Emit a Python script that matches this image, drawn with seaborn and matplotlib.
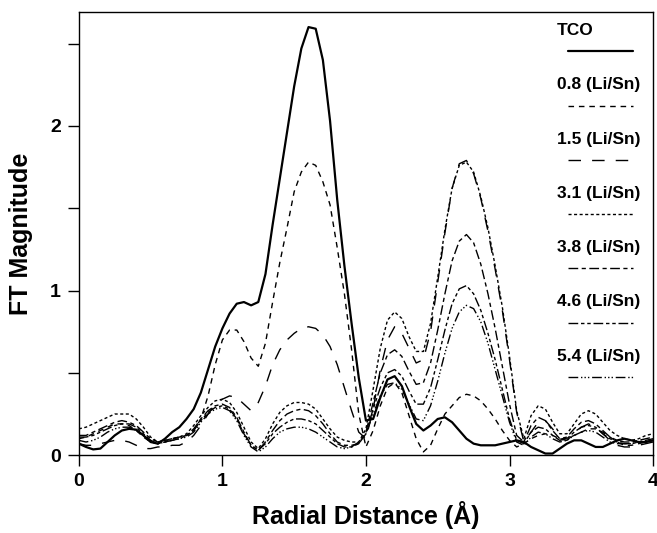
import matplotlib
matplotlib.use("Agg")
import matplotlib.pyplot as plt
import seaborn as sns
import pandas as pd

# ---------------- data ----------------
r = [0.00, 0.05, 0.10, 0.15, 0.20, 0.25, 0.30, 0.35, 0.40, 0.45,
     0.50, 0.55, 0.60, 0.65, 0.70, 0.75, 0.80, 0.85, 0.90, 0.95,
     1.00, 1.05, 1.10, 1.15, 1.20, 1.25, 1.30, 1.35, 1.40, 1.45,
     1.50, 1.55, 1.60, 1.65, 1.70, 1.75, 1.80, 1.85, 1.90, 1.95,
     2.00, 2.05, 2.10, 2.15, 2.20, 2.25, 2.30, 2.35, 2.40, 2.45,
     2.50, 2.55, 2.60, 2.65, 2.70, 2.75, 2.80, 2.85, 2.90, 2.95,
     3.00, 3.05, 3.10, 3.15, 3.20, 3.25, 3.30, 3.35, 3.40, 3.45,
     3.50, 3.55, 3.60, 3.65, 3.70, 3.75, 3.80, 3.85, 3.90, 3.95,
     4.00]

tco = [0.07, 0.05, 0.035, 0.04, 0.08, 0.12, 0.15, 0.16, 0.155, 0.12,
       0.08, 0.07, 0.10, 0.14, 0.17, 0.22, 0.28, 0.38, 0.52, 0.66,
       0.77, 0.86, 0.92, 0.93, 0.91, 0.93, 1.10, 1.40, 1.68, 1.96,
       2.24, 2.47, 2.60, 2.59, 2.40, 2.03, 1.55, 1.15, 0.80, 0.47,
       0.21, 0.22, 0.35, 0.46, 0.48, 0.42, 0.30, 0.19, 0.15, 0.18,
       0.22, 0.23, 0.20, 0.15, 0.10, 0.07, 0.06, 0.06, 0.06, 0.07,
       0.08, 0.09, 0.08, 0.05, 0.03, 0.01, 0.01, 0.04, 0.07, 0.09,
       0.09, 0.07, 0.05, 0.05, 0.07, 0.09, 0.10, 0.09, 0.08, 0.08,
       0.09]

li08 = [0.10, 0.11, 0.13, 0.15, 0.17, 0.19, 0.19, 0.18, 0.15, 0.11,
        0.08, 0.07, 0.08, 0.10, 0.11, 0.12, 0.15, 0.22, 0.36, 0.55,
        0.70, 0.76, 0.76, 0.69, 0.59, 0.54, 0.68, 0.93, 1.17, 1.38,
        1.60, 1.72, 1.78, 1.76, 1.66, 1.52, 1.26, 0.98, 0.64, 0.25,
        0.05, 0.15, 0.30, 0.41, 0.44, 0.38, 0.24, 0.10, 0.02, 0.06,
        0.16, 0.25, 0.30, 0.35, 0.37, 0.36, 0.33, 0.28, 0.22, 0.15,
        0.09, 0.05, 0.07, 0.10, 0.12, 0.13, 0.12, 0.10, 0.10, 0.12,
        0.14, 0.16, 0.16, 0.14, 0.11, 0.08, 0.06, 0.06, 0.07, 0.08,
        0.09]

li15 = [0.07, 0.06, 0.06, 0.07, 0.08, 0.09, 0.09, 0.08, 0.06, 0.04,
        0.04, 0.05, 0.05, 0.06, 0.06, 0.08, 0.12, 0.18, 0.25, 0.31,
        0.34, 0.36, 0.35, 0.31, 0.27, 0.32, 0.42, 0.55, 0.64, 0.70,
        0.74, 0.77, 0.78, 0.77, 0.73, 0.66, 0.55, 0.41, 0.27, 0.14,
        0.10, 0.28, 0.52, 0.70, 0.78, 0.74, 0.65, 0.56, 0.58, 0.75,
        1.05, 1.35, 1.62, 1.77, 1.79, 1.71, 1.56, 1.36, 1.13, 0.88,
        0.58, 0.26, 0.08, 0.14, 0.20, 0.21, 0.16, 0.10, 0.09, 0.13,
        0.17, 0.19, 0.17, 0.13, 0.09, 0.06, 0.05, 0.05, 0.06, 0.07,
        0.08]

li31 = [0.16, 0.17, 0.19, 0.21, 0.23, 0.25, 0.25, 0.25, 0.22, 0.17,
        0.11, 0.08, 0.09, 0.10, 0.11, 0.13, 0.18, 0.24, 0.29, 0.33,
        0.34, 0.32, 0.26, 0.17, 0.08, 0.04, 0.10, 0.19, 0.26, 0.30,
        0.32, 0.32, 0.31, 0.28, 0.22, 0.16, 0.11, 0.09, 0.08, 0.08,
        0.16, 0.40, 0.65, 0.82, 0.87, 0.83, 0.72, 0.63, 0.63, 0.80,
        1.08, 1.37, 1.62, 1.76, 1.78, 1.72, 1.57, 1.38, 1.15, 0.90,
        0.60, 0.27, 0.10, 0.24, 0.30, 0.28, 0.20, 0.13, 0.13, 0.19,
        0.25, 0.27, 0.25, 0.20, 0.15, 0.12, 0.10, 0.09, 0.10, 0.12,
        0.13]

li38 = [0.12, 0.12, 0.14, 0.16, 0.18, 0.20, 0.21, 0.20, 0.18, 0.14,
        0.10, 0.08, 0.09, 0.10, 0.11, 0.12, 0.16, 0.22, 0.27, 0.30,
        0.31, 0.29, 0.23, 0.14, 0.06, 0.03, 0.08, 0.15, 0.21, 0.25,
        0.27, 0.28, 0.27, 0.24, 0.19, 0.13, 0.08, 0.06, 0.06, 0.07,
        0.14, 0.32, 0.50, 0.61, 0.64, 0.60, 0.51, 0.43, 0.44, 0.56,
        0.76, 0.98, 1.18, 1.30, 1.34, 1.29, 1.16, 0.98, 0.77, 0.54,
        0.31, 0.12, 0.08, 0.18, 0.23, 0.21, 0.15, 0.10, 0.11, 0.16,
        0.20, 0.21, 0.19, 0.15, 0.11, 0.09, 0.08, 0.08, 0.09, 0.10,
        0.11]

li46 = [0.11, 0.11, 0.12, 0.14, 0.16, 0.18, 0.19, 0.19, 0.17, 0.13,
        0.09, 0.07, 0.08, 0.09, 0.10, 0.12, 0.15, 0.21, 0.26, 0.29,
        0.30, 0.28, 0.22, 0.13, 0.06, 0.03, 0.07, 0.13, 0.17, 0.20,
        0.22, 0.22, 0.21, 0.19, 0.15, 0.11, 0.07, 0.05, 0.05, 0.07,
        0.13, 0.28, 0.41, 0.50, 0.52, 0.48, 0.39, 0.31, 0.31, 0.41,
        0.58, 0.76, 0.92, 1.01, 1.03, 0.98, 0.88, 0.74, 0.58, 0.40,
        0.22, 0.09, 0.07, 0.14, 0.17, 0.16, 0.12, 0.09, 0.10, 0.14,
        0.17, 0.18, 0.17, 0.13, 0.10, 0.08, 0.07, 0.07, 0.08, 0.09,
        0.10]

li54 = [0.09, 0.08, 0.09, 0.11, 0.14, 0.16, 0.17, 0.17, 0.15, 0.12,
        0.09, 0.07, 0.08, 0.09, 0.10, 0.11, 0.14, 0.20, 0.25, 0.28,
        0.29, 0.27, 0.21, 0.12, 0.05, 0.02, 0.05, 0.10, 0.14, 0.16,
        0.17, 0.17, 0.16, 0.14, 0.11, 0.08, 0.05, 0.04, 0.05, 0.08,
        0.13, 0.25, 0.36, 0.43, 0.44, 0.40, 0.31, 0.22, 0.21, 0.30,
        0.45, 0.62, 0.77, 0.87, 0.91, 0.89, 0.81, 0.68, 0.52, 0.36,
        0.20, 0.08, 0.06, 0.11, 0.14, 0.13, 0.10, 0.08, 0.09, 0.12,
        0.14, 0.15, 0.14, 0.11, 0.08, 0.07, 0.07, 0.07, 0.08, 0.08,
        0.09]

labels = ["TCO", "0.8 (Li/Sn)", "1.5 (Li/Sn)", "3.1 (Li/Sn)",
          "3.8 (Li/Sn)", "4.6 (Li/Sn)", "5.4 (Li/Sn)"]
series = [tco, li08, li15, li31, li38, li46, li54]

x_ticks = [0, 1, 2, 3, 4]
y_ticks = [0, 1, 2]
y_minor = [0.5, 1.5, 2.5]

# ---------------- style ----------------
sns.set_theme(style="ticks")
plt.rcParams["font.family"] = ["Liberation Sans", "DejaVu Sans"]
plt.rcParams["font.weight"] = "bold"
plt.rcParams["text.color"] = "black"
plt.rcParams["axes.labelcolor"] = "black"
plt.rcParams["xtick.color"] = "black"
plt.rcParams["ytick.color"] = "black"
plt.rcParams["axes.edgecolor"] = "black"

styles = {
    "TCO": dict(ls="-", lw=1.6),
    "0.8 (Li/Sn)": dict(ls=(0, (4.0, 3.5)), lw=1.0),
    "1.5 (Li/Sn)": dict(ls=(0, (9, 8)), lw=1.0),
    "3.1 (Li/Sn)": dict(ls=(0, (2.2, 1.8)), lw=1.0),
    "3.8 (Li/Sn)": dict(ls=(0, (7, 2.5, 3, 2.5)), lw=1.0),
    "4.6 (Li/Sn)": dict(ls=(0, (7, 2, 2.5, 2, 2.5, 2)), lw=1.0),
    "5.4 (Li/Sn)": dict(ls=(0, (7, 2, 1, 1.5, 1, 1.5, 1, 2)), lw=1.0),
}

fig = plt.figure(figsize=(6.57, 5.33), dpi=100)
ax = fig.add_axes([0.120, 0.146, 0.874, 0.831])

for lab, vals in zip(labels, series):
    df = pd.DataFrame({"r": r, "ft": vals})
    st = styles[lab]
    sns.lineplot(data=df, x="r", y="ft", ax=ax, color="black",
                 linewidth=st["lw"], linestyle=st["ls"], estimator=None,
                 legend=False)

ax.set_xlim(0, 4)
ax.set_ylim(0, 2.69)
ax.set_xticks(x_ticks)
ax.set_xticklabels([str(t) for t in x_ticks])
ax.set_yticks(y_ticks)
ax.set_yticklabels([str(t) for t in y_ticks])
ax.set_yticks(y_minor, minor=True)
ax.tick_params(axis="both", which="both", direction="out", length=8,
               width=1.0, colors="black", labelsize=14, pad=5)
for lbl in ax.get_xticklabels() + ax.get_yticklabels():
    lbl.set_fontweight("bold")
    lbl.set_color("black")
for sp in ax.spines.values():
    sp.set_visible(True)
    sp.set_color("black")
    sp.set_linewidth(1.0)

ax.set_xlabel("Radial Distance (Å)", fontsize=18, fontweight="bold",
              labelpad=8, color="black")
ax.set_ylabel("FT Magnitude", fontsize=18, fontweight="bold",
              labelpad=12, color="black")

# legend: label text with line sample below
y0 = 0.959
dy = 0.1226
for i, lab in enumerate(labels):
    yt = y0 - i * dy
    ax.text(0.833, yt, lab, transform=ax.transAxes, fontsize=12.5,
            fontweight="bold", ha="left", va="center", color="black")
    st = styles[lab]
    ax.plot([0.852, 0.965], [yt - 0.047, yt - 0.047], transform=ax.transAxes,
            color="black", linewidth=st["lw"], linestyle=st["ls"])

fig.savefig("out.png", dpi=100)
